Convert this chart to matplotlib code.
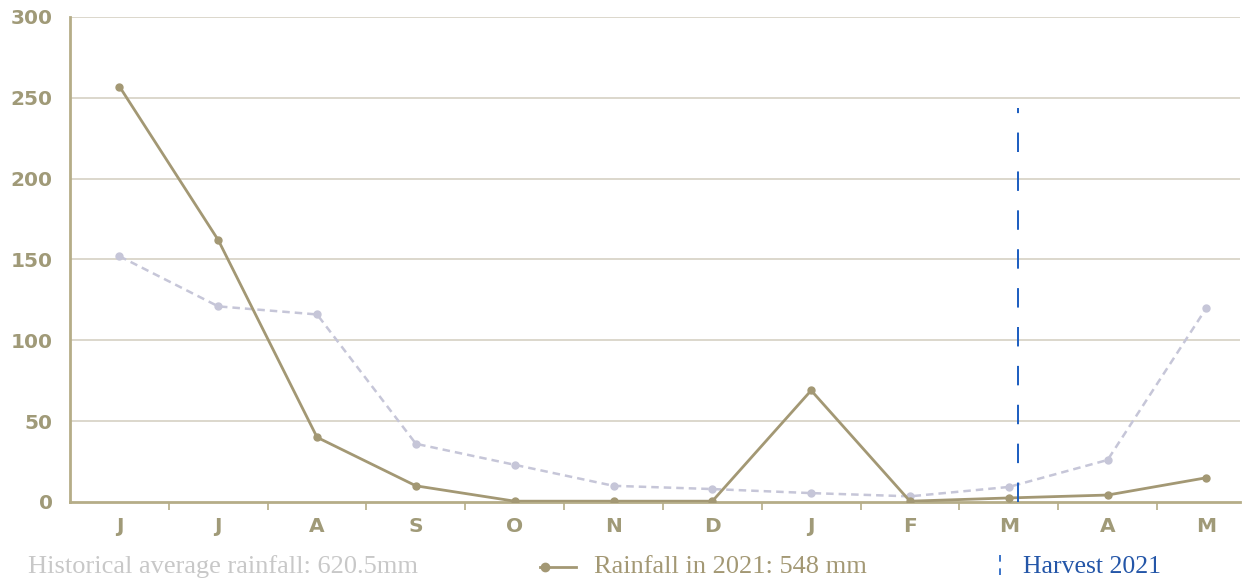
import matplotlib.pyplot as plt
from matplotlib.lines import Line2D
import numpy as np

months = ['J', 'J', 'A', 'S', 'O', 'N', 'D', 'J', 'F', 'M', 'A', 'M']
rain_2021 = [257, 162, 40, 10, 0.5, 0.5, 0.5, 69, 0.5, 2.5, 4.3, 15]
rain_hist = [152, 121, 116, 36, 23, 10, 8, 5.5, 3.5, 9.3, 26, 120]
y_ticks = [0, 50, 100, 150, 200, 250, 300]
harvest_x = 9.09
harvest_top = 244

olive = '#a39874'
lav = '#c6c6d8'
tick_col = '#a09a78'
blue = '#1a5cc0'

fig = plt.figure(figsize=(12.44, 5.8), dpi=100)
ax = fig.add_axes([0.0563, 0.1345, 0.9405, 0.8362])

x = np.arange(len(months))
ax.plot(x, rain_hist, linestyle=(0, (3, 2)), color=lav, lw=1.8, marker='o', ms=5, zorder=2)
ax.plot(x, rain_2021, color=olive, lw=2, marker='o', ms=5, zorder=3)
ax.plot([harvest_x, harvest_x], [0, harvest_top], color=blue, lw=1.4,
        linestyle=(0, (10, 10)), zorder=4)

ax.set_xlim(-0.5, 11.34)
ax.set_ylim(0, 300)
ax.set_yticks(y_ticks)
ax.set_yticklabels([str(v) for v in y_ticks], fontfamily='DejaVu Sans', fontweight='bold',
                   fontsize=14.5, color=tick_col)
ax.set_xticks(x)
ax.set_xticklabels(months, fontfamily='DejaVu Sans', fontweight='bold', fontsize=14.5, color=tick_col)
ax.set_xticks(np.arange(0.5, 11.5, 1), minor=True)
ax.tick_params(axis='x', which='major', length=0, pad=11)
ax.tick_params(axis='x', which='minor', length=6, width=1.2, color='#b5ad88', direction='out')
ax.tick_params(axis='y', length=0, pad=12.5)
for v in y_ticks[1:]:
    ax.axhline(v, color='#dcd7cc', lw=1.4, zorder=1)

for s in ['top', 'right']:
    ax.spines[s].set_visible(False)
ax.spines['left'].set_color('#b5ad88')
ax.spines['left'].set_linewidth(2)
ax.spines['bottom'].set_color('#b5ad88')
ax.spines['bottom'].set_linewidth(2)

# legend row
ly = 1 - 567 / 580
fig.text(28 / 1244, ly, 'Historical average rainfall: 620.5mm', fontfamily='Liberation Serif',
         fontsize=19, color='#c8c8c8', va='center')
fig.add_artist(Line2D([540 / 1244, 576 / 1244], [ly] * 2, color=olive, lw=2))
fig.add_artist(Line2D([545 / 1244], [ly], color=olive, marker='o', ms=6))
fig.text(594 / 1244, ly, 'Rainfall in 2021: 548 mm', fontfamily='Liberation Serif',
         fontsize=19, color='#a39874', va='center')
fig.add_artist(Line2D([1000 / 1244] * 2, [1 - 555 / 580, 0], color=blue, lw=1.2,
                      linestyle=(0, (4, 4))))
fig.text(1023 / 1244, ly, 'Harvest 2021', fontfamily='Liberation Serif',
         fontsize=18.5, color='#2456a8', va='center')

fig.savefig('out.png', dpi=100)
